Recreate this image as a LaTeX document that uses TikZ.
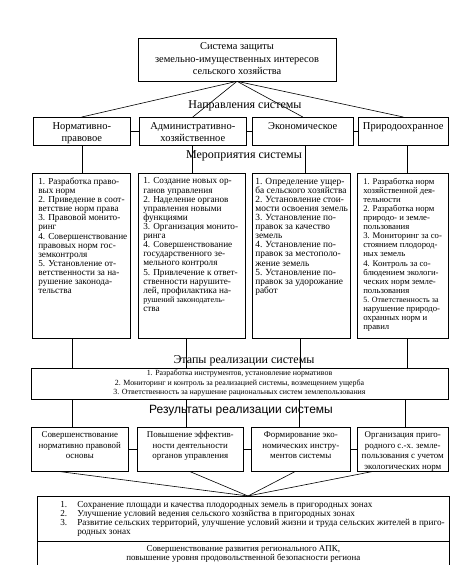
\documentclass[tikz,border=0pt]{standalone}
\usepackage{fontspec}
\setmainfont{Liberation Serif}
\newfontfamily\ttlsans{Liberation Sans}
\newcommand\topfont{\fontsize{10.4}{12.5}\selectfont}
\newcommand\dirfont{\fontsize{10.5}{12}\selectfont}
\newcommand\msrfont[1]{\fontsize{#1}{9.12}\selectfont\lineskiplimit=-20pt\lineskip=0pt}
\newcommand\stgfont{\fontsize{7.9}{9.5}\selectfont}
\newcommand\resfont{\fontsize{8.9}{10.6}\selectfont}
\newcommand\btmfont{\fontsize{9.2}{9}\selectfont}
\newcommand\finfont{\fontsize{8.9}{9}\selectfont}
\newcommand\ctab[1]{\begin{tabular}{@{}c@{}}#1\end{tabular}}
\newcommand\Ln[1]{\mbox{#1}\par}
\begin{document}
\begin{tikzpicture}[x=1pt,y=-1pt,
  box/.style={draw, line width=0.6pt, anchor=north west},
  lnk/.style={line width=0.6pt},
  ttl/.style={font=\fontsize{12}{14}\selectfont, inner sep=0pt}]
\useasboundingbox (0,0) rectangle (450,565);
\fill[white] (0,0) rectangle (450,565);

% top
\node[draw, line width=0.6pt, minimum width=198pt, minimum height=43pt, inner sep=0pt] (top) at (237,59.5)
  {\topfont\ctab{Система защиты\\земельно-имущественных интересов\\сельского хозяйства}};

% directions
\node[box, inner xsep=3pt, inner ysep=4pt] (d1) at (33,117)
  {\parbox[c][20pt][t]{91pt}{\centering\dirfont\ctab{Нормативно-\\правовое}}};
\node[box, inner xsep=3pt, inner ysep=4pt] (d2) at (139,117)
  {\parbox[c][20pt][t]{101pt}{\centering\dirfont\ctab{Административно-\\хозяйственное}}};
\node[box, inner xsep=3pt, inner ysep=4pt] (d3) at (252,117)
  {\parbox[c][20pt][t]{95pt}{\centering\dirfont\ctab{Экономическое}}};
\node[box, inner xsep=3pt, inner ysep=4pt] (d4) at (358,117)
  {\parbox[c][20pt][t]{84pt}{\centering\dirfont\ctab{Природоохранное}}};

\node[ttl] (t1) at (245,106) {Направления системы};
\node[ttl] (t2) at (244,156) {Мероприятия системы};

% measures
\node[box, inner xsep=6pt, inner ysep=4.5pt] (m1) at (32,173)
  {\parbox[c][156pt][t]{86pt}{\msrfont{9.2}
  \Ln{1. Разработка право-}\Ln{вых норм}\Ln{2. Приведение в соот-}\Ln{ветствие норм права}\Ln{3. Правовой монито-}\Ln{ринг}\Ln{4. Совершенствование}\Ln{правовых норм гос-}\Ln{земконтроля}\Ln{5. Установление от-}\Ln{ветственности за на-}\Ln{рушение законода-}\Ln{тельства}}};
\node[box, inner xsep=5pt, inner ysep=4.5pt] (m2) at (138,173)
  {\parbox[c][156pt][t]{97pt}{\msrfont{9.2}
  \Ln{1. Создание новых ор-}\Ln{ганов управления}\Ln{2. Наделение органов}\Ln{управления новыми}\Ln{функциями}\Ln{3. Организация монито-}\Ln{ринга}\Ln{4. Совершенствование}\Ln{государственного зе-}\Ln{мельного контроля}\Ln{5. Привлечение к ответ-}\Ln{ственности нарушите-}\Ln{лей, профилактика на-}\Ln{\fontsize{8.2}{9.12}\selectfont рушений законодатель-}\Ln{ства}}};
\node[box, inner xsep=3pt, inner ysep=4.5pt] (m3) at (252,173)
  {\parbox[c][156pt][t]{92pt}{\msrfont{9.4}
  \Ln{1. Определение ущер-}\Ln{ба сельского хозяйства}\Ln{2. Установление стои-}\Ln{мости освоения земель}\Ln{3. Установление по-}\Ln{правок за качество}\Ln{земель}\Ln{4. Установление по-}\Ln{правок за местополо-}\Ln{жение земель}\Ln{5. Установление по-}\Ln{правок за удорожание}\Ln{работ}}};
\node[box, inner xsep=6pt, inner ysep=4.5pt] (m4) at (357,173)
  {\parbox[c][156pt][t]{79pt}{\msrfont{8.7}
  \Ln{1. Разработка норм}\Ln{хозяйственной дея-}\Ln{тельности}\Ln{2. Разработка норм}\Ln{природо- и земле-}\Ln{пользования}\Ln{3. Мониторинг за со-}\Ln{стоянием плодород-}\Ln{ных земель}\Ln{4. Контроль за со-}\Ln{блюдением экологи-}\Ln{ческих норм земле-}\Ln{пользования}\Ln{\fontsize{8}{9.12}\selectfont 5. Ответственность за}\Ln{нарушение природо-}\Ln{охранных норм и}\Ln{правил}}};

% stages
\node[ttl] (t3) at (244,361) {Этапы реализации системы};
\node[draw, line width=0.6pt, minimum width=417pt, minimum height=31pt, inner sep=0pt] (st) at (239.5,383.5)
  {\stgfont\ctab{1. Разработка инструментов, установление нормативов\\2. Мониторинг и контроль за реализацией системы, возмещением ущерба\\3. Ответственность за нарушение рациональных систем землепользования}};

% results
\node[ttl, font=\ttlsans\fontsize{12}{14}\selectfont] (t4) at (241,411) {Результаты реализации системы};
\node[box, inner xsep=3pt, inner ysep=3pt] (r1) at (31,427)
  {\parbox[c][38pt][t]{91pt}{\centering\resfont\ctab{Совершенствование\\нормативно правовой\\основы}}};
\node[box, inner xsep=3pt, inner ysep=3pt] (r2) at (137,427)
  {\parbox[c][38pt][t]{100pt}{\centering\resfont\ctab{Повышение эффектив-\\ности деятельности\\органов управления}}};
\node[box, inner xsep=3pt, inner ysep=3pt] (r3) at (251,427)
  {\parbox[c][38pt][t]{93pt}{\centering\resfont\ctab{Формирование эко-\\номических инстру-\\ментов системы}}};
\node[box, inner xsep=3pt, inner ysep=3pt] (r4) at (357,427)
  {\parbox[c][38pt][t]{85pt}{\centering\resfont\ctab{Организация приго-\\родного с.-х. земле-\\пользования с учетом\\экологических норм}}};

% bottom
\node[box, inner xsep=0pt, inner ysep=5pt] (bt) at (37,496)
  {\parbox[c][35pt][t]{412pt}{\btmfont\hspace*{23pt}\begin{tabular}{@{}p{17pt}@{}l@{}}1. & Сохранение площади и качества плодородных земель в пригородных зонах\\2. & Улучшение условий ведения сельского хозяйства в пригородных зонах\\3. & Развитие сельских территорий, улучшение условий жизни и труда сельских жителей в приго-\\ & родных зонах\end{tabular}}};
\node[box, minimum width=412pt, minimum height=26pt, inner sep=0pt] (bf) at (37,541)
  {\finfont\ctab{Совершенствование развития регионального АПК,\\повышение уровня продовольственной безопасности региона}};
\draw[line width=1.4pt] (bt.south west) -- (bt.south east);

% connectors
\foreach \d in {d1,d2,d3,d4} \draw[lnk] (top.south) -- (\d.north);
\draw[lnk] (d1.east) -- (d2.west);
\draw[lnk] (d2.east) -- (d3.west);
\draw[lnk] (d3.east) -- (d4.west);
\draw[lnk] (d1.south -| 82,0) -- (m1.north -| 82,0);
\draw[lnk] (d2.south -| 192,0) -- (m2.north -| 192,0);
\draw[lnk] (d3.south -| 305,0) -- (m3.north -| 305,0);
\draw[lnk] (d4.south -| 407,0) -- (m4.north -| 407,0);
\draw[lnk] (m1.south -| 72,0) -- (st.north -| 72,0);
\draw[lnk] (m2.south -| 186,0) -- (st.north -| 186,0);
\draw[lnk] (m3.south -| 300,0) -- (st.north -| 300,0);
\draw[lnk] (m4.south -| 407,0) -- (st.north -| 407,0);
\draw[lnk] (st.south -| 72,0) -- (r1.north -| 72,0);
\draw[lnk] (st.south -| 186,0) -- (r2.north -| 186,0);
\draw[lnk] (st.south -| 299,0) -- (r3.north -| 299,0);
\draw[lnk] (st.south -| 405,0) -- (r4.north -| 405,0);
\draw[lnk] (r1.east) -- (r2.west);
\draw[lnk] (r2.east) -- (r3.west);
\draw[lnk] (r3.east) -- (r4.west);
\draw[lnk] (r1.south -| 60,0) -- (bt.north -| 248,0);
\draw[lnk] (r2.south -| 190,0) -- (bt.north -| 248,0);
\draw[lnk] (r3.south -| 295,0) -- (bt.north -| 248,0);
\draw[lnk] (r4.south -| 372,0) -- (bt.north -| 248,0);
\end{tikzpicture}
\end{document}
